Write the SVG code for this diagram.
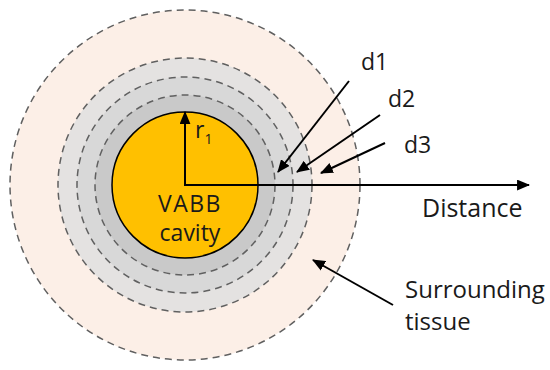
<svg xmlns="http://www.w3.org/2000/svg" width="550" height="370" viewBox="0 0 550 370">
<defs>
<style>
.dash{fill:none;stroke:#606060;stroke-width:1.5;stroke-dasharray:7 5}
.lbl{font-family:"Open Sans","Noto Sans",sans-serif;font-size:23px;fill:#1a1a1a}
.big{font-size:25px}
.mid{font-size:24px}
.arr{stroke:#000;stroke-width:2;fill:none;marker-end:url(#ah)}
</style>
<marker id="ah" viewBox="0 0 12 10" refX="11" refY="5" markerWidth="6.5" markerHeight="5.5" orient="auto" markerUnits="strokeWidth">
<path d="M0,0 L12,5 L0,10 Z" fill="#000"/>
</marker>
</defs>
<rect width="550" height="370" fill="#fff"/>
<g id="tissue">
<circle cx="185" cy="185" r="175" fill="#fcefe7"/>
<circle cx="185" cy="185" r="127" fill="#e4e2e1"/>
<circle cx="185" cy="185" r="108" fill="#d8d8d8"/>
<circle cx="185" cy="185" r="90" fill="#c9c9c9"/>
<circle class="dash" cx="185" cy="185" r="175"/>
<circle class="dash" cx="185" cy="185" r="127"/>
<circle class="dash" cx="185" cy="185" r="108"/>
<circle class="dash" cx="185" cy="185" r="90"/>
</g>
<g id="cavity">
<circle cx="185" cy="185" r="73" fill="#ffc000" stroke="#000" stroke-width="1.5"/>
<text class="lbl" x="190" y="212" text-anchor="middle" font-size="21" letter-spacing="1.5">VABB</text>
<text class="lbl" x="190" y="241" text-anchor="middle" font-size="22">cavity</text>
</g>
<g id="connectors">
<line class="arr" x1="185" y1="185" x2="185" y2="112"/>
<line class="arr" x1="184" y1="185" x2="529" y2="185"/>
<line class="arr" x1="349" y1="81" x2="278" y2="172"/>
<line class="arr" x1="380" y1="115" x2="297" y2="172"/>
<line class="arr" x1="385" y1="143" x2="321" y2="173"/>
<line class="arr" x1="393" y1="305" x2="313" y2="260"/>
</g>
<g id="labels">
<text class="lbl" x="195" y="138" font-size="26">r<tspan font-size="14" dy="6">1</tspan></text>
<text class="lbl" x="361" y="70">d1</text>
<text class="lbl" x="388" y="107">d2</text>
<text class="lbl" x="404" y="153">d3</text>
<text class="lbl big" x="422" y="217">Distance</text>
<text class="lbl mid" x="405" y="298">Surrounding</text>
<text class="lbl mid" x="405" y="330">tissue</text>
</g>
</svg>
